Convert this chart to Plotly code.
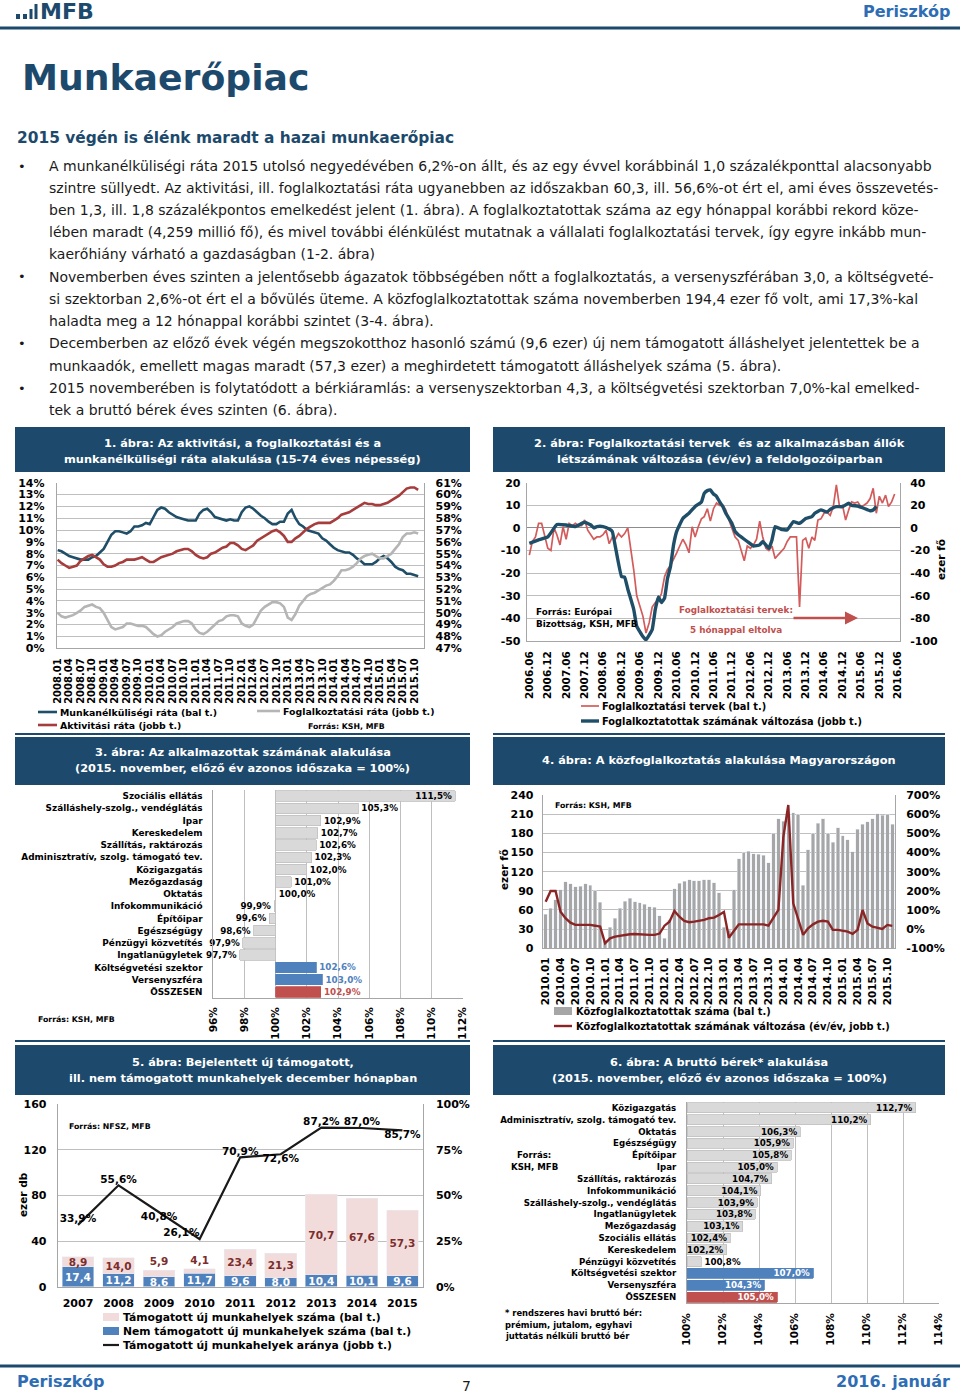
import plotly.graph_objects as go
import pandas as pd

W, H = 960, 1395
def X(px): return px / W
def Y(py): return 1 - py / H

FONT = "DejaVu Sans"
NAVY = "#1d4a6c"
TXT = "#1a1a1a"
GRID = "#BFBFBF"
AXC = "#A6A6A6"
PBLUE = "#2E6DB4"

# ---------------- chart 1: rates (monthly, 2008.01-2015.11) ----------------
c1_months = [f"{y}.{m:02d}" for y in range(2008, 2016) for m in range(1, 13)][:95]
c1_unemp = [8.3, 8.2, 8.0, 7.8, 7.7, 7.6, 7.5, 7.5, 7.5, 7.7, 7.8, 8.1,
            8.4, 9.0, 9.6, 9.9, 9.9, 9.8, 9.7, 9.9, 10.3, 10.3, 10.4, 10.6,
            10.5, 11.1, 11.7, 11.9, 11.8, 11.5, 11.3, 11.1, 11.0, 10.9, 10.8, 10.8,
            10.8, 11.4, 11.7, 11.8, 11.5, 11.1, 11.0, 10.9, 10.8, 10.9, 10.8, 10.8,
            11.5, 11.9, 12.0, 11.8, 11.5, 11.2, 11.0, 10.7, 10.5, 10.5, 10.7, 10.7,
            11.4, 11.7, 11.0, 10.5, 10.3, 10.0, 9.9, 9.8, 9.7, 9.3, 9.1, 8.8,
            8.5, 8.3, 8.2, 8.1, 8.1, 7.9, 7.6, 7.4, 7.1, 7.1, 7.1, 7.3,
            7.6, 7.8, 7.6, 7.3, 6.9, 6.7, 6.6, 6.3, 6.3, 6.2, 6.1]
c1_activ = [54.5, 54.2, 54.0, 53.8, 53.9, 54.0, 54.4, 54.6, 54.8, 54.9, 54.7, 54.5,
            54.1, 53.9, 53.9, 54.0, 54.2, 54.3, 54.5, 54.5, 54.5, 54.6, 54.7, 54.5,
            54.3, 54.3, 54.5, 54.7, 54.8, 54.9, 55.0, 55.2, 55.3, 55.4, 55.4, 55.2,
            54.9, 54.7, 54.6, 54.7, 55.0, 55.1, 55.3, 55.5, 55.6, 55.9, 55.9, 55.7,
            55.4, 55.3, 55.5, 55.7, 56.1, 56.3, 56.5, 56.7, 56.9, 57.0, 56.8, 56.5,
            56.0, 56.0, 56.3, 56.5, 56.8, 57.1, 57.3, 57.5, 57.6, 57.6, 57.6, 57.6,
            57.8, 58.0, 58.3, 58.4, 58.5, 58.7, 58.9, 59.1, 59.3, 59.2, 59.2, 59.1,
            59.1, 59.2, 59.3, 59.5, 59.7, 59.9, 60.2, 60.5, 60.6, 60.6, 60.4]
c1_employ = [50.0, 49.7, 49.6, 49.7, 49.8, 50.0, 50.2, 50.5, 50.6, 50.7, 50.5, 50.4,
             50.0, 49.4, 48.8, 48.6, 48.7, 48.8, 49.1, 49.1, 49.0, 48.9, 48.9, 48.8,
             48.5, 48.2, 48.0, 48.1, 48.4, 48.6, 48.8, 49.1, 49.2, 49.3, 49.3, 49.1,
             48.6, 48.3, 48.2, 48.4, 48.7, 49.0, 49.3, 49.4, 49.7, 49.8, 49.8, 49.7,
             49.1, 48.9, 48.8, 49.0, 49.6, 50.2, 50.5, 50.7, 50.9, 50.9, 50.8, 50.5,
             49.6, 49.4, 49.9, 50.6, 51.0, 51.4, 51.6, 51.7, 51.9, 52.1, 52.3, 52.4,
             52.7, 53.1, 53.6, 53.6, 53.7, 53.9, 54.2, 54.6, 54.8, 54.9, 55.0, 54.8,
             54.6, 54.6, 54.8, 55.0, 55.4, 55.8, 56.4, 56.7, 56.7, 56.8, 56.7]

# ---------------- chart 2: employment plans vs. employment change ----------------
c2_plan_start = "2006-06-01"
c2_plans = [-12, -6, -4, 2, 2, -4, -9, -10, 0, -3, -7.5, 0.5,
            -5, 2, 1, 2, 1, 1, 3.5, -1, -3, -5, -4, -4,
            -3, -1, -7, -4, -5, -2.5, -4, -2.5, 0, -8, -18.5, -30,
            -35, -39, -46.5, -42, -35, -33, -32, -29, -21.5, -18.5, -16.5, -14,
            -11, -8, -5, -7.5, -11, 0.5, -4, 0.5, 4, 5, 8.5, 3,
            8.5, 11, 10, 10, 8, 3.5, 0, -4, -5.5, -10, -14.5, -8,
            -9, -7.5, -5, 3, -4, -9, -10, -8, -13.5, -12, -10.5, -9,
            -6, -4, -4, -4, -35, -5.5, -4.5, -9, -4, -5.5, 3.5, 4,
            6.5, 7, 5.5, 9.5, 19, 9.5, 10, 3.5, 8, 11.5, 11, 11.5,
            9.5, 10, 11, 13, 17.5, 6.5, 14, 11, 14.5, 9.5, 11.5, 15]
c2_emp_months = ["2006.06", "2006.09", "2006.12", "2007.03", "2007.06", "2007.09", "2007.12",
                 "2008.02", "2008.03", "2008.04", "2008.06", "2008.08", "2008.09", "2008.10",
                 "2008.12", "2009.01", "2009.02", "2009.04", "2009.05", "2009.07", "2009.08",
                 "2009.10", "2009.11", "2009.12", "2010.01", "2010.02", "2010.03", "2010.04",
                 "2010.05", "2010.06", "2010.08", "2010.10", "2010.12", "2011.02", "2011.03",
                 "2011.04", "2011.05", "2011.06", "2011.07", "2011.08", "2011.09", "2011.10",
                 "2011.12", "2012.01", "2012.02", "2012.03", "2012.05", "2012.07", "2012.09",
                 "2012.10", "2012.12", "2013.01", "2013.02", "2013.04", "2013.06", "2013.08",
                 "2013.10", "2013.12", "2014.02", "2014.03", "2014.05", "2014.07", "2014.08",
                 "2014.10", "2014.12", "2015.02", "2015.03", "2015.05", "2015.07", "2015.09",
                 "2015.10", "2015.11"]
c2_emp_change = [-13.6, -10.6, -8, 3, 2.6, 1.2, 5,
                 2.6, 0, 1.2, 1.2, -1, -3.2, -16.6,
                 -43, -43.6, -54, -72, -87, -96, -99,
                 -90, -72, -61, -66, -62, -45, -34,
                 -15, -3, 8.4, 13, 19, 23, 30.6,
                 33, 33.6, 30, 28, 23, 19, 13,
                 4, -3.2, -6, -8, -12, -16, -15,
                 -12, -18, -10.6, 1.2, -1.2, -1.8, 5.6,
                 4, 8.4, 10, 13, 16, 14, 16.4,
                 18.8, 18.8, 21.8, 20, 19.4, 17.4, 15.2,
                 15.8, 19]
c2_left_ticks = [-50, -40, -30, -20, -10, 0, 10, 20]
c2_right_ticks = [-100, -80, -60, -40, -20, 0, 20, 40]

# ---------------- chart 3: employees by sector ----------------
c3_sectors = ["Szociális ellátás", "Szálláshely-szolg., vendéglátás", "Ipar", "Kereskedelem",
              "Szállítás, raktározás", "Adminisztratív, szolg. támogató tev.", "Közigazgatás",
              "Mezőgazdaság", "Oktatás", "Infokommunikáció", "Építőipar", "Egészségügy",
              "Pénzügyi közvetítés", "Ingatlanügyletek", "Költségvetési szektor",
              "Versenyszféra", "ÖSSZESEN"]
c3_values = [111.5, 105.3, 102.9, 102.7, 102.6, 102.3, 102.0, 101.0, 100.0, 99.9, 99.6,
             98.6, 97.9, 97.7, 102.6, 103.0, 102.9]

# ---------------- chart 4: public works ----------------
c4_months = [f"{y}.{m:02d}" for y in range(2010, 2016) for m in range(1, 13)][:71]
c4_count = [53, 63, 76, 92, 104, 101, 96, 97, 101, 99, 90, 72,
            12, 33, 47, 63, 74, 78, 73, 71, 69, 65, 64, 51,
            16, 45, 93, 102, 105, 107, 106, 106, 107, 107, 103, 87,
            33, 28, 92, 140, 150, 152, 148, 147, 146, 134, 180, 203,
            199, 211, 212, 210, 99, 154, 180, 196, 203, 180, 166, 189,
            176, 170, 151, 186, 194, 198, 203, 211, 208, 210, 194.4]
c4_change = [143, 199, 199, 91, 57, 34, 22, 22, 22, 22, 18, 13,
             -74, -48, -39, -34, -30, -27, -25, -27, -30, -30, -30, -23,
             18, 39, 95, 65, 43, 36, 39, 44, 48, 57, 60, 74,
             90, -45, -10, 25, 25, 25, 25, 25, 25, 18, 57, 100,
             480, 648, 135, 57, -30, 4, 25, 39, 44, 39, -4, -4,
             -8, -13, -25, -4, 100, 30, 13, 8, 1, 22, 17.3]
c4_right_ticks = [-100, 0, 100, 200, 300, 400, 500, 600, 700]

# ---------------- chart 5: new jobs in December ----------------
c5_years = ["2007", "2008", "2009", "2010", "2011", "2012", "2013", "2014", "2015"]
c5_supported = [8.9, 14.0, 5.9, 4.1, 23.4, 21.3, 70.7, 67.6, 57.3]
c5_unsupported = [17.4, 11.2, 8.6, 11.7, 9.6, 8.0, 10.4, 10.1, 9.6]
c5_ratio = [33.9, 55.6, 40.8, 26.1, 70.9, 72.6, 87.2, 87.0, 85.7]

# ---------------- chart 6: gross wages ----------------
c6_sectors = ["Közigazgatás", "Adminisztratív, szolg. támogató tev.", "Oktatás", "Egészségügy",
              "Építőipar", "Ipar", "Szállítás, raktározás", "Infokommunikáció",
              "Szálláshely-szolg., vendéglátás", "Ingatlanügyletek", "Mezőgazdaság",
              "Szociális ellátás", "Kereskedelem", "Pénzügyi közvetítés",
              "Költségvetési szektor", "Versenyszféra", "ÖSSZESEN"]
c6_values = [112.7, 110.2, 106.3, 105.9, 105.8, 105.0, 104.7, 104.1, 103.9, 103.8, 103.1,
             102.4, 102.2, 100.8, 107.0, 104.3, 105.0]


def hu(v, d=1, pct=False):
    s = f"{v:.{d}f}".replace(".", ",")
    return s + ("%" if pct else "")


def bar_color(name):
    if name == "ÖSSZESEN":
        return "#C0504D"
    if name in ("Költségvetési szektor", "Versenyszféra"):
        return "#4F81BD"
    return "#D9D9D9"


def tf(size=11, color="black"):
    return dict(family=FONT, size=size, color=color, weight="bold")


fig = go.Figure()

# chart 1
fig.add_trace(go.Scatter(x=c1_months, y=c1_unemp, xaxis="x", yaxis="y", mode="lines",
                         line=dict(color="#1F4E68", width=2.6), showlegend=False))
fig.add_trace(go.Scatter(x=c1_months, y=c1_employ, xaxis="x", yaxis="y2", mode="lines",
                         line=dict(color="#B5B5B5", width=2.6), showlegend=False))
fig.add_trace(go.Scatter(x=c1_months, y=c1_activ, xaxis="x", yaxis="y2", mode="lines",
                         line=dict(color="#A63C3C", width=2.6), showlegend=False))

# chart 2
plan_dates = pd.date_range(c2_plan_start, periods=len(c2_plans), freq="MS")
emp_dates = [m.replace(".", "-") + "-01" for m in c2_emp_months]
fig.add_trace(go.Scatter(x=plan_dates, y=c2_plans, xaxis="x2", yaxis="y3", mode="lines",
                         line=dict(color="#D35B5B", width=1.7), showlegend=False))
fig.add_trace(go.Scatter(x=emp_dates, y=c2_emp_change, xaxis="x2", yaxis="y4", mode="lines",
                         line=dict(color="#1F4E68", width=3.4, shape="spline", smoothing=0.3),
                         showlegend=False))

# chart 3
c3_colors = [bar_color(s) for s in c3_sectors]
c3_tcol = [("black" if c == "#D9D9D9" else c) for c in c3_colors]
c3_pos = ["inside" if v == max(c3_values) else "outside" for v in c3_values]
fig.add_trace(go.Bar(y=c3_sectors, x=[v - 100 for v in c3_values], base=100, orientation="h",
                     xaxis="x3", yaxis="y5", width=0.86,
                     marker=dict(color=c3_colors, line=dict(color=[("#BFBFBF" if c == "#D9D9D9" else c) for c in c3_colors], width=0.8)),
                     text=[hu(v, 1, True) for v in c3_values], textposition=c3_pos,
                     insidetextanchor="end", constraintext="none", cliponaxis=False, textangle=0,
                     textfont=dict(family=FONT, size=8.8, color=c3_tcol, weight="bold"),
                     showlegend=False))

# chart 4
fig.add_trace(go.Bar(x=c4_months, y=c4_count, xaxis="x4", yaxis="y6", width=0.7,
                     marker=dict(color="#A6A6A6"), showlegend=False))
fig.add_trace(go.Scatter(x=c4_months, y=c4_change, xaxis="x4", yaxis="y7", mode="lines",
                         line=dict(color="#8B2525", width=2.4), showlegend=False))

# chart 5
fig.add_trace(go.Bar(x=c5_years, y=c5_unsupported, xaxis="x5", yaxis="y8", width=0.78,
                     marker=dict(color="#4F81BD"), text=[hu(v) for v in c5_unsupported],
                     textposition="inside", insidetextanchor="middle", constraintext="none",
                     textangle=0,
                     textfont=dict(family=FONT, size=10.5, color="white", weight="bold"),
                     showlegend=False))
fig.add_trace(go.Bar(x=c5_years, y=c5_supported, xaxis="x5", yaxis="y8", width=0.78,
                     marker=dict(color="#F2DCDB"), text=[hu(v) for v in c5_supported],
                     textposition=["inside" if v >= 8 else "outside" for v in c5_supported],
                     insidetextanchor="middle", constraintext="none", cliponaxis=False,
                     textangle=0,
                     textfont=dict(family=FONT, size=10.5, color="#7B2D2D", weight="bold"),
                     showlegend=False))
fig.add_trace(go.Scatter(x=c5_years, y=c5_ratio, xaxis="x5", yaxis="y9", mode="lines+text",
                         line=dict(color="#1a1a1a", width=2.2),
                         text=[hu(v, 1, True) for v in c5_ratio],
                         textposition=["top center", "top center", "bottom center", "top left",
                                       "top center", "bottom center", "top center", "top center",
                                       "bottom center"],
                         textfont=dict(family=FONT, size=10.5, color="black", weight="bold"),
                         cliponaxis=False, showlegend=False))

# chart 6
c6_colors = [bar_color(s) for s in c6_sectors]
c6_tcol = [("black" if c == "#D9D9D9" else "white") for c in c6_colors]
c6_pos = ["inside" if v - 100 > 1.5 else "outside" for v in c6_values]
fig.add_trace(go.Bar(y=c6_sectors, x=[v - 100 for v in c6_values], base=100, orientation="h",
                     xaxis="x6", yaxis="y10", width=0.84,
                     marker=dict(color=c6_colors, line=dict(color=[("#BFBFBF" if c == "#D9D9D9" else c) for c in c6_colors], width=0.8)),
                     text=[hu(v, 1, True) for v in c6_values], textposition=c6_pos,
                     insidetextanchor="end", constraintext="none", cliponaxis=False, textangle=0,
                     textfont=dict(family=FONT, size=8.7, color=c6_tcol, weight="bold"),
                     showlegend=False))

# ---------------- axes ----------------
def yax(dom, anchor, rng, dtick, suffix="", standoff=8, grid=True, **kw):
    d = dict(domain=[Y(dom[1]), Y(dom[0])], anchor=anchor, range=rng, dtick=dtick,
             ticksuffix=suffix, showgrid=grid, gridcolor=GRID, gridwidth=1,
             showline=True, linecolor=AXC, linewidth=1, zeroline=False, ticks="",
             tickfont=tf(11), ticklabelstandoff=standoff, fixedrange=True)
    d.update(kw)
    return d


def yover(over, anchor, rng, dtick, suffix="", standoff=8, **kw):
    d = dict(overlaying=over, side="right", anchor=anchor, range=rng, dtick=dtick,
             ticksuffix=suffix, showgrid=False, showline=True, linecolor=AXC,
             zeroline=False, ticks="", tickfont=tf(11), ticklabelstandoff=standoff)
    d.update(kw)
    return d


def plain_ticks(vals, suffix=""):
    return dict(tickmode="array", tickvals=vals, ticktext=[f"{v}{suffix}" for v in vals])


layout = dict(
    width=W, height=H, margin=dict(l=0, r=0, t=0, b=0, pad=0, autoexpand=False),
    paper_bgcolor="white", plot_bgcolor="white", barmode="stack",
    font=dict(family=FONT, color=TXT),
    # chart 1
    xaxis=dict(domain=[X(56.7), X(424.3)], anchor="y", type="category", range=[-0.25, 95.6],
               tickmode="array", tickvals=c1_months[::3], tickangle=-90, tickfont=tf(10),
               showline=True, linecolor=AXC, showgrid=False, ticks="", ticklabelstandoff=5),
    yaxis=yax((482.7, 648.3), "x", [0, 14], 1, "%", standoff=9),
    yaxis2=yover("y", "x", [47, 61], 1, "%", standoff=8),
    # chart 2
    xaxis2=dict(domain=[X(526.7), X(900)], anchor="y3", type="date",
                range=["2006-05-06", "2016-06-23"], dtick="M6", tick0="2006-06-01",
                tickformat="%Y.%m", tickangle=-90, tickfont=tf(10.5), showline=True,
                linecolor=AXC, showgrid=False, ticks="", ticklabelstandoff=5),
    yaxis3=yax((482.7, 641), "x2", [-50, 20], 10, standoff=3, zeroline=True,
               zerolinecolor="#8C8C8C", zerolinewidth=1, **plain_ticks(c2_left_ticks)),
    yaxis4=yover("y3", "x2", [-100, 40], 20, standoff=7, **plain_ticks(c2_right_ticks)),
    # chart 3
    xaxis3=dict(domain=[X(213.3), X(462.8)], anchor="y5", range=[96, 112], dtick=2,
                ticksuffix="%", tickangle=-90, tickfont=tf(10.5), showgrid=True,
                gridcolor=GRID, showline=True, linecolor=AXC, zeroline=False, ticks="",
                ticklabelstandoff=4),
    yaxis5=dict(domain=[Y(998), Y(790)], anchor="x3", type="category", autorange="reversed",
                tickfont=tf(8.9), showline=True, linecolor=AXC, ticks="", ticklabelstandoff=8,
                showgrid=False),
    # chart 4
    xaxis4=dict(domain=[X(542.7), X(895)], anchor="y6", type="category", range=[-0.6, 70.55],
                tickmode="array", tickvals=c4_months[::3], tickangle=-90, tickfont=tf(10.5),
                showline=True, linecolor=AXC, showgrid=False, ticks="", ticklabelstandoff=4),
    yaxis6=yax((795, 948.3), "x4", [0, 240], 30, standoff=6),
    yaxis7=yover("y6", "x4", [-100, 700], 100, standoff=8, **plain_ticks(c4_right_ticks, "%")),
    # chart 5
    xaxis5=dict(domain=[X(57.7), X(422.7)], anchor="y8", type="category", tickfont=tf(11),
                showline=True, linecolor=AXC, showgrid=False, ticks="", ticklabelstandoff=6),
    yaxis8=yax((1104.3, 1286.7), "x5", [0, 160], 40, standoff=8),
    yaxis9=yover("y8", "x5", [0, 100], 25, "%", standoff=10),
    # chart 6
    xaxis6=dict(domain=[X(687), X(939)], anchor="y10", range=[100, 114], dtick=2,
                ticksuffix="%", tickangle=-90, tickfont=tf(10.5), showgrid=True,
                gridcolor=GRID, showline=True, linecolor=AXC, zeroline=False, ticks="",
                ticklabelstandoff=5),
    yaxis10=dict(domain=[Y(1303), Y(1102)], anchor="x6", type="category", autorange="reversed",
                 tickfont=tf(8.65), showline=True, linecolor=AXC, ticks="", ticklabelstandoff=8,
                 showgrid=False),
)
fig.update_layout(**layout)

# ---------------- page decoration: annotations and shapes ----------------
ann = []
shp = []


def txt(x, y, s, size, color=TXT, bold=False, xa="left", ya="middle", angle=0):
    ann.append(dict(x=X(x), y=Y(y), xref="paper", yref="paper", text=s, showarrow=False,
                    xanchor=xa, yanchor=ya, textangle=angle,
                    font=dict(family=FONT, size=size, color=color,
                              weight="bold" if bold else "normal")))


def rect(x0, y0, x1, y1, fill, line=None):
    shp.append(dict(type="rect", xref="paper", yref="paper", x0=X(x0), x1=X(x1),
                    y0=Y(y1), y1=Y(y0), fillcolor=fill, line=dict(width=0) if line is None else line,
                    layer="above"))


def hline(x0, x1, y, color, width):
    shp.append(dict(type="line", xref="paper", yref="paper", x0=X(x0), x1=X(x1),
                    y0=Y(y), y1=Y(y), line=dict(color=color, width=width)))


# header
rect(16, 14, 20, 19, NAVY)
rect(23, 14, 27, 19, NAVY)
rect(29.5, 9, 32.5, 19, NAVY)
rect(34.5, 4, 37.5, 19, NAVY)
txt(38, 12, "MFB", 22, NAVY, True)
txt(952, 11, "Periszkóp", 16, PBLUE, True, xa="right")
hline(0, 960, 28, NAVY, 3)

txt(20, 78, "Munkaerőpiac", 36.2, NAVY, True)
txt(15, 138, "2015 végén is élénk maradt a hazai munkaerőpiac", 15.4, NAVY, True)

body = [
    (166, True, "A munkanélküliségi ráta 2015 utolsó negyedévében 6,2%-on állt, és az egy évvel korábbinál 1,0 százalékponttal alacsonyabb"),
    (188, False, "szintre süllyedt. Az aktivitási, ill. foglalkoztatási ráta ugyanebben az időszakban 60,3, ill. 56,6%-ot ért el, ami éves összevetés-"),
    (210, False, "ben 1,3, ill. 1,8 százalékpontos emelkedést jelent (1. ábra). A foglalkoztatottak száma az egy hónappal korábbi rekord köze-"),
    (232, False, "lében maradt (4,259 millió fő), és mivel további élénkülést mutatnak a vállalati foglalkoztatási tervek, így egyre inkább mun-"),
    (254, False, "kaerőhiány várható a gazdaságban (1-2. ábra)"),
    (277, True, "Novemberben éves szinten a jelentősebb ágazatok többségében nőtt a foglalkoztatás, a versenyszférában 3,0, a költségveté-"),
    (299, False, "si szektorban 2,6%-ot ért el a bővülés üteme. A közfoglalkoztatottak száma novemberben 194,4 ezer fő volt, ami 17,3%-kal"),
    (321, False, "haladta meg a 12 hónappal korábbi szintet (3-4. ábra)."),
    (343, True, "Decemberben az előző évek végén megszokotthoz hasonló számú (9,6 ezer) új nem támogatott álláshelyet jelentettek be a"),
    (366, False, "munkaadók, emellett magas maradt (57,3 ezer) a meghirdetett támogatott álláshelyek száma (5. ábra)."),
    (388, True, "2015 novemberében is folytatódott a bérkiáramlás: a versenyszektorban 4,3, a költségvetési szektorban 7,0%-kal emelked-"),
    (410, False, "tek a bruttó bérek éves szinten (6. ábra)."),
]
for y, bullet, s in body:
    if bullet:
        txt(16, y, "•", 13, TXT)
    txt(47, y, s, 14.0, TXT)

# chart title boxes
def title_box(x0, y0, x1, y1, lines, ys):
    rect(x0, y0, x1, y1, NAVY)
    for s, yy in zip(lines, ys):
        txt((x0 + x1) / 2, yy, s, 11.35, "white", True, xa="center")


title_box(15, 427, 470, 472, ["1. ábra: Az aktivitási, a foglalkoztatási és a",
                              "munkanélküliségi ráta alakulása (15-74 éves népesség)"], [443, 459])
title_box(493, 427, 945, 472, ["2. ábra: Foglalkoztatási tervek  és az alkalmazásban állók",
                               "létszámának változása (év/év) a feldolgozóiparban"], [443, 459])
title_box(15, 737, 470, 785, ["3. ábra: Az alkalmazottak számának alakulása",
                              "(2015. november, előző év azonos időszaka = 100%)"], [752, 768])
title_box(493, 737, 945, 785, ["4. ábra: A közfoglalkoztatás alakulása Magyarországon"], [760])
title_box(15, 1045, 470, 1095, ["5. ábra: Bejelentett új támogatott,",
                                "ill. nem támogatott munkahelyek december hónapban"], [1062, 1078])
title_box(493, 1045, 945, 1095, ["6. ábra: A bruttó bérek* alakulása",
                                 "(2015. november, előző év azonos időszaka = 100%)"], [1062, 1078])

# bottom borders of chart panels
hline(15, 470, 734, NAVY, 2)
hline(493, 945, 734, NAVY, 2)
hline(15, 470, 1041, NAVY, 2)
hline(493, 945, 1041, NAVY, 2)

# chart 1 legend
hline(38, 57, 712, "#1F4E68", 2.6)
txt(58, 712, "Munkanélküliségi ráta (bal t.)", 9.4, "black", True)
hline(38, 57, 725, "#A63C3C", 2.6)
txt(58, 725, "Aktivitási ráta (jobb t.)", 9.4, "black", True)
hline(257, 280, 711, "#B5B5B5", 2.6)
txt(281, 711, "Foglalkoztatási ráta (jobb t.)", 9.4, "black", True)
txt(346, 726, "Forrás: KSH, MFB", 7.8, "black", True, xa="center")

# chart 2 notes and legend
txt(534, 612, "Forrás: Európai", 8.8, "black", True)
txt(534, 624, "Bizottság, KSH, MFB", 8.8, "black", True)
txt(736, 610, "Foglalkoztatási tervek:", 8.8, "#C0504D", True, xa="center")
txt(736, 630, "5 hónappal eltolva", 8.8, "#C0504D", True, xa="center")
ann.append(dict(x=X(858), y=Y(618), xref="paper", yref="paper", ax=-66, ay=0,
                axref="pixel", ayref="pixel", text="", showarrow=True, arrowhead=2,
                arrowsize=1, arrowwidth=2.6, arrowcolor="#C0504D"))
txt(941, 560, "ezer fő", 10.5, "black", True, xa="center", angle=-90)
hline(581, 599, 706, "#D35B5B", 1.7)
txt(600, 706, "Foglalkoztatási tervek (bal t.)", 9.8, "black", True)
hline(581, 599, 721, "#1F4E68", 3.4)
txt(600, 721, "Foglalkoztatottak számának változása (jobb t.)", 9.8, "black", True)

# chart 3 source
txt(76, 1019, "Forrás: KSH, MFB", 7.8, "black", True, xa="center")

# chart 4 notes and legend
txt(553, 805, "Forrás: KSH, MFB", 7.8, "black", True)
txt(504, 870, "ezer fő", 10.5, "black", True, xa="center", angle=-90)
rect(554, 1007, 572, 1015, "#A6A6A6")
txt(574, 1011, "Közfoglalkoztatottak száma (bal t.)", 9.8, "black", True)
hline(554, 572, 1026, "#8B2525", 2.4)
txt(574, 1026, "Közfoglalkoztatottak számának változása (év/év, jobb t.)", 9.8, "black", True)

# chart 5 notes and legend
txt(67, 1126, "Forrás: NFSZ, MFB", 7.8, "black", True)
txt(23, 1195, "ezer db", 10.5, "black", True, xa="center", angle=-90)
rect(103, 1313, 119, 1321, "#F2DCDB")
txt(121, 1317, "Támogatott új munkahelyek száma (bal t.)", 10.8, "black", True)
rect(103, 1327, 119, 1335, "#4F81BD")
txt(121, 1331, "Nem támogatott új munkahelyek száma (bal t.)", 10.8, "black", True)
hline(103, 119, 1345, "#1a1a1a", 2.2)
txt(121, 1345, "Támogatott új munkahelyek aránya (jobb t.)", 10.8, "black", True)

# chart 6 notes
txt(534, 1155, "Forrás:", 8.6, "black", True, xa="center")
txt(534, 1167, "KSH, MFB", 8.6, "black", True, xa="center")
txt(503, 1313, "* rendszeres havi bruttó bér:", 8.4, "black", True)
txt(503, 1325, "prémium, jutalom, egyhavi", 8.4, "black", True)
txt(503, 1336, "juttatás nélküli bruttó bér", 8.4, "black", True)

# footer
hline(0, 960, 1366, NAVY, 3)
txt(15, 1381, "Periszkóp", 16, PBLUE, True)
txt(466, 1386, "7", 14, TXT, False, xa="center")
txt(952, 1381, "2016. január", 16, PBLUE, True, xa="right")

fig.update_layout(annotations=ann, shapes=shp)
fig.write_html("out.html", config={"displayModeBar": False},
               post_script="document.body.style.margin='0';document.body.style.padding='0';")
